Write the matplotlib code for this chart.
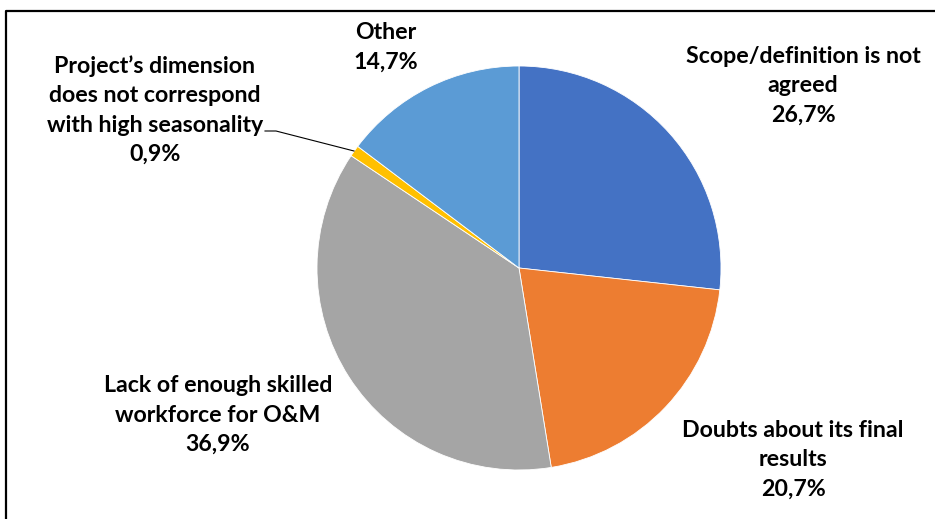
import matplotlib.pyplot as plt
from matplotlib.lines import Line2D

# slice data, clockwise from 12 o'clock
labels = ["Scope/definition is not\nagreed",
          "Doubts about its final\nresults",
          "Lack of enough skilled\nworkforce for O&M",
          "Project\u2019s dimension\ndoes not correspond\nwith high seasonality",
          "Other"]
values = [26.7, 20.7, 36.9, 0.9, 14.7]
colors = ["#4472C4", "#ED7D31", "#A5A5A5", "#FFC000", "#5B9BD5"]

# where each label block sits (pixel coords, top-left origin)
label_pos = [(803, 86), (793, 460), (218, 415), (155, 110), (386, 47)]

W, H = 935, 519
fig = plt.figure(figsize=(W / 100, H / 100), dpi=100)
ax = fig.add_axes([0, 0, 1, 1])
ax.set_xlim(0, W)
ax.set_ylim(0, H)
ax.set_aspect("equal")
ax.axis("off")

ax.pie(values, colors=colors, startangle=90, counterclock=False,
       center=(519, H - 268), radius=202,
       wedgeprops=dict(edgecolor="white", linewidth=0.6))
ax.set_xlim(0, W)
ax.set_ylim(0, H)

for lab, v, (x, y) in zip(labels, values, label_pos):
    pct = f"{v:.1f}".replace(".", ",") + "%"
    ax.text(x, H - y, lab + "\n" + pct, ha="center", va="center",
            fontsize=16.7, fontweight="bold", family="Lato",
            linespacing=1.5, color="black")

# leader line for the small slice
ax.add_line(Line2D([265, 276, 354], [H - 131, H - 131, H - 151],
                   color="black", linewidth=0.8))

# frame: left and top edges only
ax.add_line(Line2D([5.5, 5.5, W], [0, H - 10.5, H - 10.5],
                   color="black", linewidth=1.6))

fig.savefig("out.png", dpi=100)
